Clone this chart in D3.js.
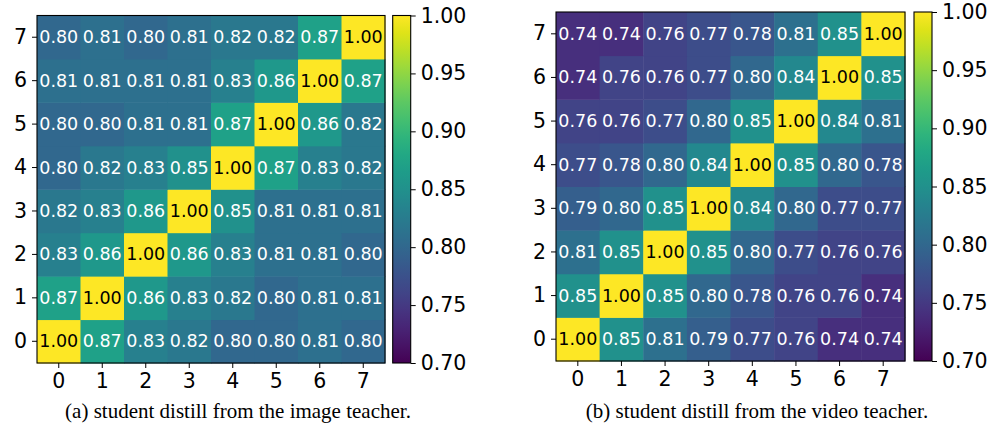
<!DOCTYPE html>
<html>
<head>
<meta charset="UTF-8" />
<script src="https://d3js.org/d3.v7.min.js"></script>
<style>
  body { margin: 0; background: #fff; }
  svg { display: block; }
  .tick text { font-family: "DejaVu Sans", sans-serif; }
</style>
</head>
<body>
<div id="chart"></div>
<script>
  const width = 994, height = 427;

  // indices on both axes
  const idx = [0, 1, 2, 3, 4, 5, 6, 7];
  const cbTicks = [0.70, 0.75, 0.80, 0.85, 0.90, 0.95, 1.00];

  // rows listed from y=0 (bottom) to y=7 (top)
  const imageTeacher = [
    [1.00, 0.87, 0.83, 0.82, 0.80, 0.80, 0.81, 0.80],
    [0.87, 1.00, 0.86, 0.83, 0.82, 0.80, 0.81, 0.81],
    [0.83, 0.86, 1.00, 0.86, 0.83, 0.81, 0.81, 0.80],
    [0.82, 0.83, 0.86, 1.00, 0.85, 0.81, 0.81, 0.81],
    [0.80, 0.82, 0.83, 0.85, 1.00, 0.87, 0.83, 0.82],
    [0.80, 0.80, 0.81, 0.81, 0.87, 1.00, 0.86, 0.82],
    [0.81, 0.81, 0.81, 0.81, 0.83, 0.86, 1.00, 0.87],
    [0.80, 0.81, 0.80, 0.81, 0.82, 0.82, 0.87, 1.00]
  ];
  const videoTeacher = [
    [1.00, 0.85, 0.81, 0.79, 0.77, 0.76, 0.74, 0.74],
    [0.85, 1.00, 0.85, 0.80, 0.78, 0.76, 0.76, 0.74],
    [0.81, 0.85, 1.00, 0.85, 0.80, 0.77, 0.76, 0.76],
    [0.79, 0.80, 0.85, 1.00, 0.84, 0.80, 0.77, 0.77],
    [0.77, 0.78, 0.80, 0.84, 1.00, 0.85, 0.80, 0.78],
    [0.76, 0.76, 0.77, 0.80, 0.85, 1.00, 0.84, 0.81],
    [0.74, 0.76, 0.76, 0.77, 0.80, 0.84, 1.00, 0.85],
    [0.74, 0.74, 0.76, 0.77, 0.78, 0.81, 0.85, 1.00]
  ];
  const captions = [
    "(a) student distill from the image teacher.",
    "(b) student distill from the video teacher."
  ];

  const color = d3.scaleSequential(d3.interpolateViridis).domain([0.7, 1.0]);

  const svg = d3.select('#chart').append('svg')
    .attr('width', width).attr('height', height);

  const panels = [
    { data: imageTeacher, caption: captions[0], x0: 37, y0: 15.5, w: 348, h: 347.5, cbx: 392.7, capX: 238 },
    { data: videoTeacher, caption: captions[1], x0: 556, y0: 12, w: 349, h: 349, cbx: 914, capX: 757 }
  ];

  const cbw = 18;
  const fontTick = 20.5;

  panels.forEach((p, pi) => {
    const g = svg.append('g');
    const x = d3.scaleBand().domain(idx).range([p.x0, p.x0 + p.w]);
    const y = d3.scaleBand().domain(idx).range([p.y0 + p.h, p.y0]);

    // cells
    const cells = [];
    p.data.forEach((row, r) => row.forEach((v, c) => cells.push({ r, c, v })));

    g.selectAll('rect.cell').data(cells).join('rect')
      .attr('class', 'cell')
      .attr('x', d => x(d.c)).attr('y', d => y(d.r))
      .attr('width', x.bandwidth() + 0.5).attr('height', y.bandwidth() + 0.5)
      .attr('fill', d => color(d.v));

    g.selectAll('text.val').data(cells).join('text')
      .attr('class', 'val')
      .attr('x', d => x(d.c) + x.bandwidth() / 2)
      .attr('y', d => y(d.r) + y.bandwidth() / 2)
      .attr('text-anchor', 'middle')
      .attr('dominant-baseline', 'central')
      .attr('font-family', 'DejaVu Sans, sans-serif')
      .attr('font-size', 17.5)
      .attr('fill', d => d.v >= 0.95 ? '#000' : '#fff')
      .text(d => d.v.toFixed(2));

    g.append('rect')
      .attr('x', p.x0).attr('y', p.y0).attr('width', p.w).attr('height', p.h)
      .attr('fill', 'none').attr('stroke', '#000').attr('stroke-width', 1.1);

    // axes
    const xAxis = d3.axisBottom(x).tickSize(5).tickPadding(5);
    const ax = g.append('g').attr('transform', `translate(0,${p.y0 + p.h})`).call(xAxis);
    const yAxis = d3.axisLeft(y).tickSize(5).tickPadding(5);
    const ay = g.append('g').attr('transform', `translate(${p.x0},0)`).call(yAxis);
    [ax, ay].forEach(a => {
      a.select('.domain').remove();
      a.selectAll('.tick line').attr('stroke', '#000').attr('stroke-width', 1);
      a.selectAll('.tick text').attr('font-size', fontTick).attr('fill', '#000');
    });

    // colorbar
    const cy = d3.scaleLinear().domain([0.7, 1.0]).range([p.y0 + p.h, p.y0]);
    const gradId = 'grad' + pi;
    const grad = svg.append('defs').append('linearGradient')
      .attr('id', gradId).attr('x1', 0).attr('y1', 1).attr('x2', 0).attr('y2', 0);
    d3.range(0, 1.0001, 0.05).forEach(t => {
      grad.append('stop').attr('offset', t).attr('stop-color', color(0.7 + 0.3 * t));
    });
    g.append('rect')
      .attr('x', p.cbx).attr('y', p.y0).attr('width', cbw).attr('height', p.h)
      .attr('fill', `url(#${gradId})`)
      .attr('stroke', '#000').attr('stroke-width', 1.1);

    const cAxis = d3.axisRight(cy).tickValues(cbTicks).tickFormat(d3.format('.2f'))
      .tickSize(5).tickPadding(5);
    const ac = g.append('g').attr('transform', `translate(${p.cbx + cbw},0)`).call(cAxis);
    ac.select('.domain').remove();
    ac.selectAll('.tick line').attr('stroke', '#000');
    ac.selectAll('.tick text').attr('font-size', fontTick).attr('fill', '#000');

    // caption
    svg.append('text')
      .attr('x', p.capX).attr('y', 418)
      .attr('text-anchor', 'middle')
      .attr('font-family', 'Liberation Serif, Times New Roman, serif')
      .attr('font-size', 21)
      .attr('fill', '#000')
      .text(p.caption);
  });
</script>
</body>
</html>
